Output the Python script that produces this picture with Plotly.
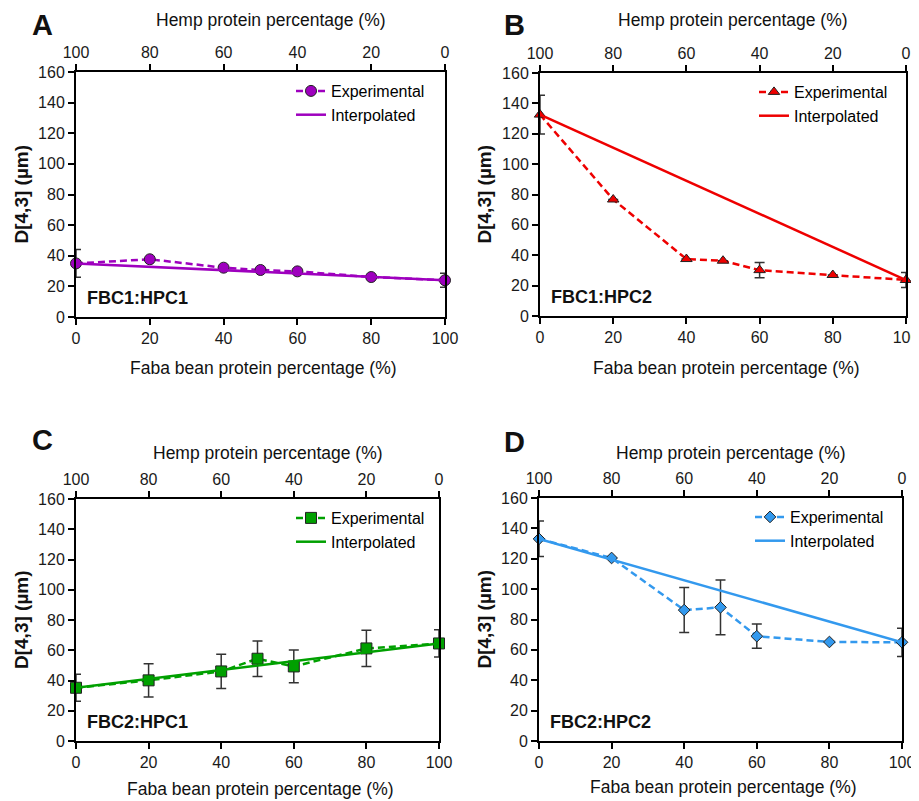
import plotly.graph_objects as go

# ---------------- data ----------------
faba_pct = [0, 20, 40, 50, 60, 80, 100]
faba_ticks = [0, 20, 40, 60, 80, 100]
interp_x = [0, 100]
hemp_ticks = [100, 80, 60, 40, 20, 0]

a_exp = [35.0, 37.7, 32.2, 30.7, 29.8, 26.1, 24.0]
a_err = [9.0, 0.0, 0.0, 0.0, 0.0, 0.0, 4.5]
a_int = [35.0, 24.0]

b_exp = [132.6, 76.7, 37.5, 36.4, 30.2, 27.0, 23.7]
b_err = [12.7, 0.0, 0.0, 0.0, 5.0, 0.0, 5.0]
b_int = [132.6, 23.7]

c_exp = [35.2, 40.1, 46.0, 54.4, 49.3, 61.2, 64.5]
c_err = [9.0, 11.0, 11.3, 11.7, 10.8, 12.0, 9.0]
c_int = [35.2, 64.5]

d_exp = [133.1, 120.5, 86.2, 88.0, 69.0, 65.2, 65.0]
d_err = [11.7, 0.0, 14.8, 18.0, 8.0, 0.0, 9.3]
d_int = [133.1, 65.0]

panels = [
    dict(letter="A", name="FBC1:HPC1", exp=a_exp, err=a_err, interp=a_int,
         color="#9E00BE", symbol="circle", msize=11,
         px=(76, 445), py=(72, 317), leg_text_x=333,
         ytitle_x=21, top_title_y=20, bot_title_y=368, letter_xy=(42, 25)),
    dict(letter="B", name="FBC1:HPC2", exp=b_exp, err=b_err, interp=b_int,
         color="#EE0000", symbol="triangle-up", msize=10,
         px=(540, 906), py=(73, 316), leg_text_x=796,
         ytitle_x=484, top_title_y=20, bot_title_y=368, letter_xy=(514, 25)),
    dict(letter="C", name="FBC2:HPC1", exp=c_exp, err=c_err, interp=c_int,
         color="#00A000", symbol="square", msize=11,
         px=(76, 439), py=(499, 741), leg_text_x=333,
         ytitle_x=21, top_title_y=453, bot_title_y=789, letter_xy=(42, 440)),
    dict(letter="D", name="FBC2:HPC2", exp=d_exp, err=d_err, interp=d_int,
         color="#3399EE", symbol="diamond", msize=9,
         px=(539, 902), py=(498, 741), leg_text_x=792,
         ytitle_x=484, top_title_y=453, bot_title_y=787, letter_xy=(514, 442)),
]

OFF = 8  # page body margin
W, H = 919 - OFF, 801 - OFF
FONT = "Arial, Liberation Sans, sans-serif"


def fx(p):
    return (p - OFF) / W


def fy(p):
    return 1 - (p - OFF) / H


fig = go.Figure()
layout = dict(
    width=W, height=H, margin=dict(l=0, r=0, t=0, b=0, autoexpand=False),
    plot_bgcolor="white", paper_bgcolor="white",
    font=dict(family=FONT, color="black", size=16),
    showlegend=True,
)
annotations = []

axis_common = dict(showline=True, linecolor="black", linewidth=2,
                   ticks="outside", ticklen=6, tickwidth=2, tickcolor="black",
                   showgrid=False, zeroline=False, automargin=False,
                   ticklabeloverflow="allow",
                   tickfont=dict(family=FONT, size=16, color="#1a1a1a"))


def ann(text, x, y, size, bold=False, angle=0, anchor="center"):
    t = f"<b>{text}</b>" if bold else text
    return dict(text=t, xref="paper", yref="paper", x=fx(x), y=fy(y),
                xanchor=anchor, yanchor="middle", showarrow=False, textangle=angle,
                font=dict(size=size, family=FONT, color="#111"))


for i, p in enumerate(panels):
    n = i + 1
    xb = "x" if i == 0 else f"x{2*i+1}"
    xt = f"x{2*i+2}"
    yk = "y" if n == 1 else f"y{n}"
    xb_name = "xaxis" if i == 0 else f"xaxis{2*i+1}"
    xt_name = f"xaxis{2*i+2}"
    y_name = "yaxis" if n == 1 else f"yaxis{n}"
    leg = "legend" if n == 1 else f"legend{n}"
    x0, x1 = p["px"]
    y0, y1 = p["py"]
    dom_x = [fx(x0), fx(x1)]
    dom_y = [fy(y1), fy(y0)]

    layout[xb_name] = dict(axis_common, domain=dom_x, range=[0, 100], anchor=yk,
                           tickvals=faba_ticks)
    layout[xt_name] = dict(axis_common, domain=dom_x, range=[100, 0], anchor=yk,
                           overlaying=xb, side="top", tickvals=hemp_ticks)
    layout[y_name] = dict(axis_common, domain=dom_y, range=[0, 160], dtick=20,
                          anchor=xb, mirror=True)

    fig.add_trace(go.Scatter(
        x=faba_pct, y=p["exp"], xaxis=xb, yaxis=yk, mode="lines+markers",
        name="Experimental", legend=leg, cliponaxis=False,
        line=dict(color=p["color"], width=2.5, dash="7px,4px"),
        marker=dict(symbol=p["symbol"], size=p["msize"], color=p["color"],
                    line=dict(color="#222", width=1)),
        error_y=dict(type="data", array=p["err"], visible=True,
                     color="#333", thickness=1.5, width=5),
    ))
    fig.add_trace(go.Scatter(
        x=interp_x, y=p["interp"], xaxis=xb, yaxis=yk, mode="lines",
        name="Interpolated", legend=leg, cliponaxis=False,
        line=dict(color=p["color"], width=2.5),
    ))
    fig.add_trace(go.Scatter(x=[None], y=[None], xaxis=xt, yaxis=yk,
                             showlegend=False, hoverinfo="skip"))

    layout[leg] = dict(x=fx(p["leg_text_x"] - 42), y=fy(y0 + 2),
                       xanchor="left", yanchor="top",
                       bgcolor="rgba(0,0,0,0)", font=dict(size=16, family=FONT),
                       tracegroupgap=0, itemwidth=30)

    cx = (x0 + x1) / 2
    annotations.append(ann(p["letter"], p["letter_xy"][0], p["letter_xy"][1], 29, bold=True))
    annotations.append(ann(p["name"], x0 + 9, y1 - 19, 18, bold=True, anchor="left"))
    annotations.append(ann("Hemp protein percentage (%)", cx + 10, p["top_title_y"], 17.5))
    annotations.append(ann("Faba bean protein percentage (%)", cx + 3, p["bot_title_y"], 17.5))
    annotations.append(ann("D[4,3] (µm)", p["ytitle_x"], (y0 + y1) / 2, 19, bold=True, angle=-90))

layout["annotations"] = annotations
fig.update_layout(**layout)
fig.write_html("out.html")
